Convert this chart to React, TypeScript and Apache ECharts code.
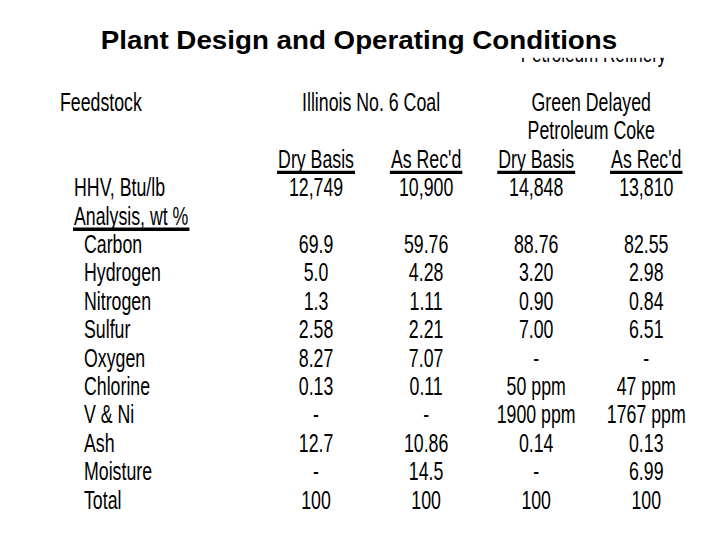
import React, { useEffect, useRef } from "react";
import * as echarts from "echarts";

// ---------- content ----------
const TITLE = "Plant Design and Operating Conditions";
const CLIPPED_NOTE = "Petroleum Refinery";
const FEED_LABEL = "Feedstock";
const FEEDSTOCK_LINES = [["Illinois No. 6 Coal"], ["Green Delayed", "Petroleum Coke"]];
const BASES = ["Dry Basis", "As Rec'd", "Dry Basis", "As Rec'd"];
const HHV_LABEL = "HHV, Btu/lb";
const HHV = ["12,749", "10,900", "14,848", "13,810"];
const ANALYSIS_LABEL = "Analysis, wt %";
const COMPONENTS = ["Carbon", "Hydrogen", "Nitrogen", "Sulfur", "Oxygen", "Chlorine", "V & Ni", "Ash", "Moisture", "Total"];
const COAL_DRY = ["69.9", "5.0", "1.3", "2.58", "8.27", "0.13", "-", "12.7", "-", "100"];
const COAL_AS_RECEIVED = ["59.76", "4.28", "1.11", "2.21", "7.07", "0.11", "-", "10.86", "14.5", "100"];
const COKE_DRY = ["88.76", "3.20", "0.90", "7.00", "-", "50 ppm", "1900 ppm", "0.14", "-", "100"];
const COKE_AS_RECEIVED = ["82.55", "2.98", "0.84", "6.51", "-", "47 ppm", "1767 ppm", "0.13", "6.99", "100"];
const ROW_IDS = ["feed1", "feed2", "basis", "hhv", "analysis", ...COMPONENTS];

// ---------- styles ----------
const FAMILY = '"Liberation Sans", Arial, Helvetica, sans-serif';
const BODY_SIZE = 25;
const NARROW = 0.71;
const LABEL_X = 60;
const INDENT = [0, 14, 24];

type Cell = {
  row: number;
  text: string;
  label?: boolean;
  level?: number;
  span?: [number, number];
  underline?: boolean;
};

function buildCells(): Cell[] {
  const cells: Cell[] = [];
  cells.push({ row: 0, text: FEED_LABEL, label: true, level: 0 });
  FEEDSTOCK_LINES.forEach((lines, g) =>
    lines.forEach((t, k) => cells.push({ row: k, text: t, span: [2 * g, 2 * g + 1] }))
  );
  BASES.forEach((t, c) => cells.push({ row: 2, text: t, span: [c, c], underline: true }));
  cells.push({ row: 3, text: HHV_LABEL, label: true, level: 1 });
  HHV.forEach((t, c) => cells.push({ row: 3, text: t, span: [c, c] }));
  cells.push({ row: 4, text: ANALYSIS_LABEL, label: true, level: 1, underline: true });
  const cols = [COAL_DRY, COAL_AS_RECEIVED, COKE_DRY, COKE_AS_RECEIVED];
  COMPONENTS.forEach((name, i) => {
    const row = 5 + i;
    cells.push({ row, text: name, label: true, level: 2 });
    cols.forEach((arr, c) => cells.push({ row, text: arr[i], span: [c, c] }));
  });
  return cells;
}

let measureCtx: CanvasRenderingContext2D | null = null;
function measure(text: string, font: string): number {
  if (!measureCtx) measureCtx = document.createElement("canvas").getContext("2d");
  if (!measureCtx) return text.length * 10;
  measureCtx.font = font;
  return measureCtx.measureText(text).width;
}

export default function App() {
  const ref = useRef<HTMLDivElement>(null);

  useEffect(() => {
    if (!ref.current) return;
    const chart = echarts.init(ref.current, undefined, { renderer: "svg" });
    const cells = buildCells();
    const bodyFont = `${BODY_SIZE}px ${FAMILY}`;

    const renderItem = (params: any, api: any) => {
      const cell = cells[params.dataIndex];
      const y = api.coord([0, cell.row])[1];
      let x: number;
      let align: string;
      if (cell.label) {
        x = LABEL_X + INDENT[cell.level || 0];
        align = "left";
      } else {
        const [a, b] = cell.span as [number, number];
        x = (api.coord([a, cell.row])[0] + api.coord([b, cell.row])[0]) / 2;
        align = "center";
      }
      const children: any[] = [
        {
          type: "text",
          x,
          y,
          scaleX: NARROW,
          scaleY: 1,
          style: {
            text: cell.text,
            font: bodyFont,
            fill: "#000",
            align,
            verticalAlign: "middle",
          },
        },
      ];
      if (cell.underline) {
        const w = measure(cell.text, bodyFont) * NARROW + 2;
        const left = align === "left" ? x - 1 : x - w / 2;
        children.push({
          type: "rect",
          shape: { x: left, y: y + 11.6, width: w, height: 3.4 },
          style: { fill: "#000" },
        });
      }
      return { type: "group", children };
    };

    chart.setOption({
      animation: false,
      backgroundColor: "#fff",
      grid: { left: 261, right: 18.7, top: 88.1, bottom: 25.8 },
      xAxis: { type: "category", data: BASES.map((b, i) => b + i), show: false },
      yAxis: { type: "category", data: ROW_IDS, inverse: true, show: false },
      series: [
        {
          type: "custom",
          renderItem,
          clip: false,
          silent: true,
          data: cells.map((c) => [c.span ? c.span[0] : 0, c.row]),
        },
      ],
      graphic: [
        {
          type: "text",
          x: 593.5,
          y: 53,
          z: 1,
          scaleX: NARROW,
          style: {
            text: CLIPPED_NOTE,
            font: `24px ${FAMILY}`,
            fill: "#000",
            align: "center",
            verticalAlign: "middle",
          },
        },
        {
          type: "rect",
          z: 2,
          shape: { x: 470, y: 0, width: 250, height: 57.8 },
          style: { fill: "#fff" },
        },
        {
          type: "text",
          x: 359,
          y: 40.6,
          z: 3,
          scaleX: 1.11,
          style: {
            text: TITLE,
            font: `bold 25px ${FAMILY}`,
            fill: "#000",
            align: "center",
            verticalAlign: "middle",
          },
        },
      ],
    });
    return () => chart.dispose();
  }, []);

  return (
    <div
      ref={ref}
      style={{ position: "fixed", left: 0, top: 0, width: 720, height: 540, background: "#fff" }}
    />
  );
}
